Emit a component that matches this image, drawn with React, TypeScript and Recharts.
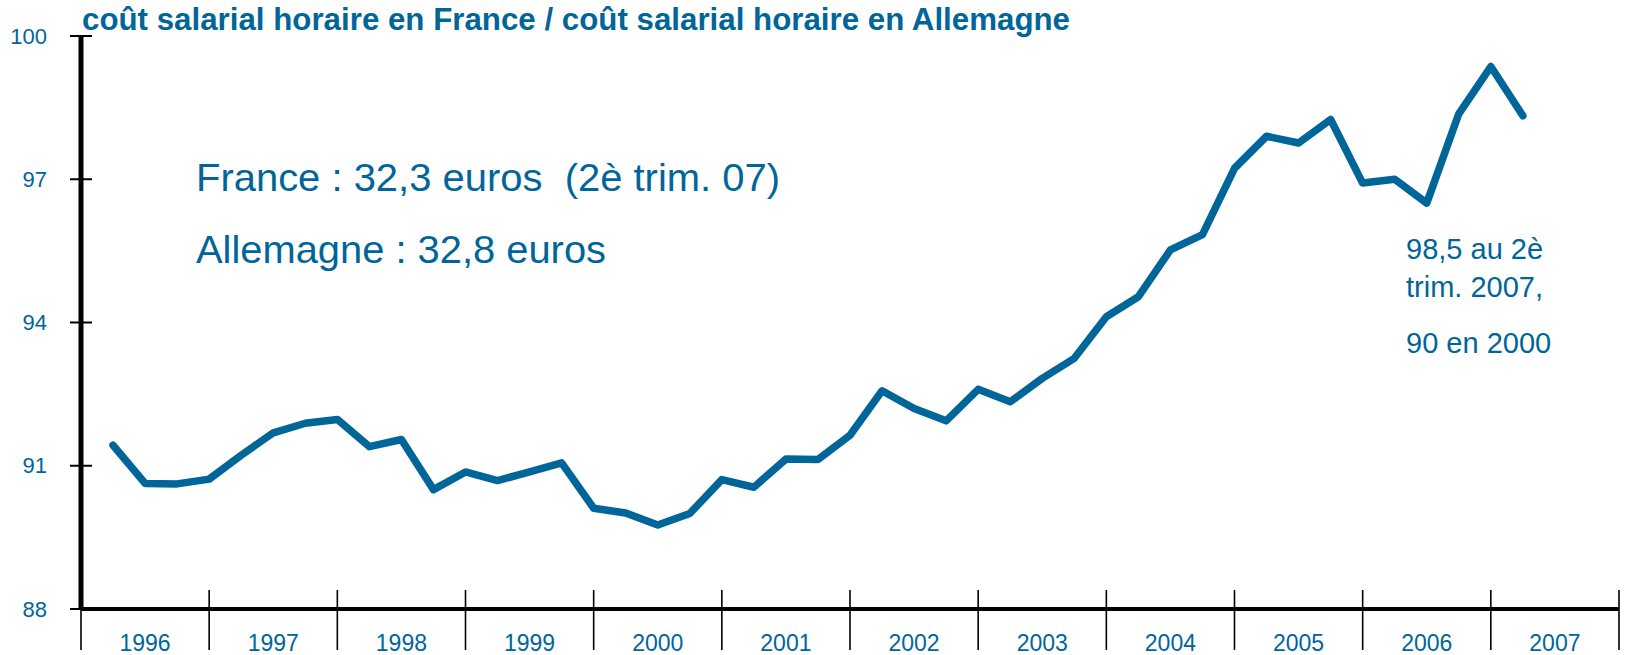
import React from 'react';
import { LineChart, Line, XAxis, YAxis } from 'recharts';

// ratio coût salarial horaire France / Allemagne, one value per quarter from 1996
const VALUES = [
  91.43, 90.63, 90.62, 90.72,
  91.22, 91.69, 91.89, 91.97,
  91.4, 91.55, 90.5, 90.87,
  90.69, 90.87, 91.06, 90.11,
  90.01, 89.76, 90.0, 90.71,
  90.55, 91.14, 91.13, 91.64,
  92.57, 92.2, 91.94, 92.6,
  92.34, 92.83, 93.25, 94.12,
  94.54, 95.52, 95.84, 97.23,
  97.9, 97.76, 98.25, 96.92,
  97.0, 96.5, 98.37, 99.36,
  98.33,
];

const YEARS = ['1996', '1997', '1998', '1999', '2000', '2001', '2002', '2003', '2004', '2005', '2006', '2007'];
const Y_TICKS = [88, 91, 94, 97, 100];

const TITLE = 'coût salarial horaire en France / coût salarial horaire en Allemagne';
const NOTE_FR = 'France : 32,3 euros\u00a0\u00a0(2è trim. 07)';
const NOTE_DE = 'Allemagne : 32,8 euros';
const NOTE_LAST = ['98,5 au 2è', 'trim. 2007,', '90 en 2000'];

const BLUE = '#006699';
const FONT = '"Liberation Sans", Arial, sans-serif';

const data = VALUES.map((v, i) => ({ q: i + 1, v }));
// boundaries every 4 quarters, year labels in the middle
const xTicks = Array.from({ length: YEARS.length * 2 + 1 }, (_, i) => i * 2);

function YTick({ x, y, payload }: any) {
  return (
    <g>
      <line x1={x - 11} x2={x + 11} y1={y} y2={y} stroke="#000" strokeWidth={2} />
      <text
        x={47}
        y={y}
        dy="0.35em"
        textAnchor="end"
        fill={BLUE}
        style={{ fontSize: 22, fontFamily: FONT }}
      >
        {payload.value}
      </text>
    </g>
  );
}

function XTick({ x, y, payload }: any) {
  const v = payload.value as number;
  if (v % 4 === 0) {
    return <line x1={x} x2={x} y1={v === 0 ? y : y - 19} y2={y + 41} stroke="#000" strokeWidth={1.6} />;
  }
  const year = YEARS[(v - 2) / 4];
  return (
    <text x={x} y={y + 42} textAnchor="middle" fill={BLUE} style={{ fontSize: 23, fontFamily: FONT }}>
      {year}
    </text>
  );
}

export default function App() {
  return (
    <div style={{ position: 'absolute', left: 0, top: 0, width: 1629, height: 655, background: '#fff' }}>
      <LineChart width={1629} height={655} data={data} margin={{ top: 36, right: 10, bottom: 0, left: 0 }}>
        <XAxis
          type="number"
          dataKey="q"
          domain={[0, 48]}
          ticks={xTicks}
          interval={0}
          height={46}
          tickSize={0}
          tickMargin={0}
          tickLine={false}
          axisLine={{ stroke: '#000', strokeWidth: 4 }}
          tick={<XTick />}
        />
        <YAxis
          domain={[88, 100]}
          ticks={Y_TICKS}
          interval={0}
          width={81}
          tickSize={0}
          tickMargin={0}
          tickLine={false}
          axisLine={{ stroke: '#000', strokeWidth: 5 }}
          tick={<YTick />}
        />
        <Line
          type="linear"
          dataKey="v"
          stroke={BLUE}
          strokeWidth={7.5}
          strokeLinecap="round"
          strokeLinejoin="round"
          dot={false}
          isAnimationActive={false}
        />
      </LineChart>

      <svg width={1629} height={655} style={{ position: 'absolute', left: 0, top: 0, pointerEvents: 'none' }}>
        <g fill={BLUE} style={{ fontFamily: FONT }}>
          <text x={82} y={30} style={{ fontSize: 31, fontWeight: 'bold' }} textLength={988} lengthAdjust="spacingAndGlyphs">
            {TITLE}
          </text>
          <text x={196} y={191} style={{ fontSize: 39 }} textLength={584} lengthAdjust="spacingAndGlyphs">
            {NOTE_FR}
          </text>
          <text x={196} y={263} style={{ fontSize: 39 }} textLength={410} lengthAdjust="spacingAndGlyphs">
            {NOTE_DE}
          </text>
          <text x={1406} y={259} style={{ fontSize: 29 }}>{NOTE_LAST[0]}</text>
          <text x={1406} y={297} style={{ fontSize: 29 }}>{NOTE_LAST[1]}</text>
          <text x={1406} y={353} style={{ fontSize: 29 }}>{NOTE_LAST[2]}</text>
        </g>
      </svg>
    </div>
  );
}
